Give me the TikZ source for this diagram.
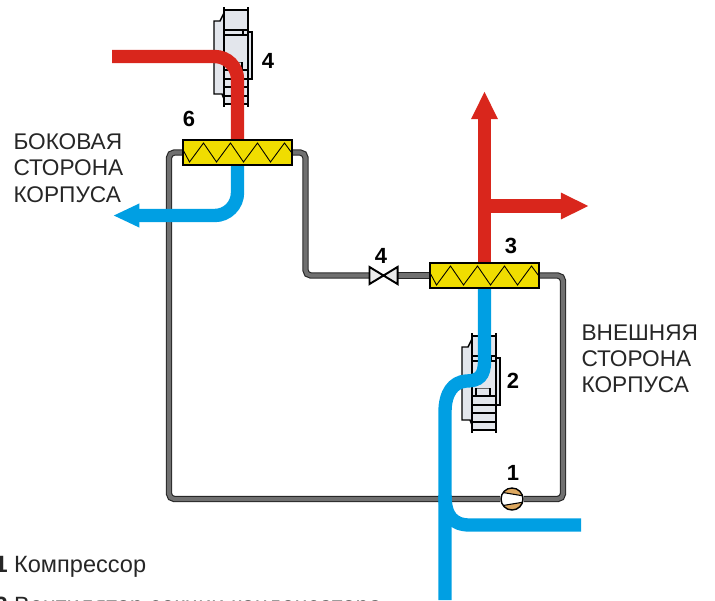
\documentclass[tikz,border=0pt]{standalone}
\usepackage{fontspec}
\setmainfont{Liberation Sans}
\usetikzlibrary{arrows.meta, calc}
\definecolor{cred}{HTML}{D9261C}
\definecolor{cblue}{HTML}{009FE3}
\definecolor{cyellow}{HTML}{F0DD00}
\definecolor{ctan}{HTML}{DDA860}
\definecolor{cpipe}{HTML}{707070}
\definecolor{cfan}{HTML}{E3E6EC}
\tikzset{
  every picture/.style={line width=0.6pt},
  pipe/.style={draw=black!85, double=cpipe, double distance=2.3pt, line width=0.65pt, rounded corners=3pt},
  hot/.style={draw=cred, line width=7.6pt},
  cold/.style={draw=cblue, line width=7.6pt},
  hotarrow/.style={hot, -{Triangle[length=16pt, width=14pt]}},
  coldarrow/.style={cold, -{Triangle[length=15pt, width=12.5pt]}},
  hx/.style={draw=black, line width=1.2pt, fill=cyellow, minimum width=2.18cm, minimum height=0.5cm, inner sep=0pt,
    path picture={
      \begin{scope}[shift={(path picture bounding box.center)}]
        \draw[line width=0.5pt] (-61,-15) \foreach \i in {0,...,3} {-- (-48+27*\i,9.5) -- (-34+27*\i,-9.5)} -- (61,9.5);
      \end{scope}}},
  number/.style={font=\fontsize{12.5}{14}\selectfont\bfseries, inner sep=0pt},
  side/.style={font=\fontsize{12.9}{15}\selectfont, align=left, anchor=north west, inner sep=0pt, text=black!85},
  legend/.style={font=\fontsize{13.4}{15}\selectfont, anchor=base west, inner sep=0pt, text=black!85},
  pics/fan/.style={code={
    \draw[fill=cfan, line width=0.8pt] (-12,-44) -- (-16,-36) -- (-22,-36) -- (-22,37) -- (-14,37) -- (-12,42);
    \fill[cfan] (-12,-47) rectangle (12,47);
    \draw[fill=cfan, line width=0.8pt] (12,-25) -- (16,-25) -- (16,22) -- (12,22);
    \draw[line width=1.1pt] (-12,-50) -- (-12,50) (12,-50) -- (12,50);
    \draw[line width=0.7pt] (-12,-47) -- (12,-47) (-12,-27) -- (12,-27) (-12,-22) -- (12,-22) (7,-27) -- (7,-22);
    \draw[line width=0.5pt, black!60] (-8,5) -- (6,5);
    \draw[line width=0.7pt] (-8,5) -- (-8,13) (6,5) -- (6,13);
    \draw[line width=1.2pt] (-12,13) -- (12,13);
    \foreach \y in {22,30,39,47} \draw[line width=0.8pt] (-12,\y) -- (12,\y);
  }},
}
\begin{document}
\begin{tikzpicture}[x=0.02cm, y=-0.02cm]
  \path[use as bounding box, clip] (0,0) rectangle (715,600);
  \pic at (236,57) {fan};
  \pic at (484,383) {fan};
  \node[hx] (hxa) at (237.5,152.5) {};
  \node[hx] (hxb) at (484.5,275.5) {};
  \node[circle, draw=black, line width=0.8pt, fill=ctan, minimum size=0.44cm, inner sep=0pt,
    path picture={
      \begin{scope}[shift={(path picture bounding box.center)}]
        \draw[fill=white, line width=0.6pt] (-12,-7) -- (12,-3) -- (12,3) -- (-12,7) -- cycle;
      \end{scope}}] (comp) at (512,499) {};
  % refrigerant loop
  \coordinate (ca) at (169,152.5);
  \coordinate (cb) at (169,499);
  \coordinate (cc) at (563,499);
  \coordinate (cd) at (563,275.5);
  \coordinate (ce) at (305.5,152.5);
  \coordinate (cf) at (305.5,275.5);
  \node[minimum width=0.54cm, minimum height=0.32cm, inner sep=0pt] (valve) at (383.5,275.5) {};
  \draw[pipe] (hxa.west) -- (ca) -- (cb) -- (comp.west);
  \draw[pipe] (comp.east) -- (cc) -- (cd) -- (hxb.east);
  \draw[pipe] (hxa.east) -- (ce) -- (cf) -- (valve.west);
  \draw[pipe] (valve.east) -- (hxb.west);
  \draw[fill=white!92!black, line width=1.1pt] (valve.north west) -- (valve.south east) -- (valve.north east) -- (valve.south west) -- cycle;
  % air flows
  \coordinate (rs) at (112,56.5);
  \coordinate (bl) at (113,215.5);
  \draw[hot, rounded corners=13pt] (rs) -| (hxa.north);
  \draw[coldarrow, rounded corners=13pt] (hxa.south) |- (bl);
  \coordinate (rt) at (484.5,91);
  \coordinate (rj) at (484.5,206);
  \coordinate (rr) at (589,206);
  \draw[hotarrow] (hxb.north) -- (rt);
  \draw[hotarrow] (rj) -- (rr);
  \coordinate (bb) at (445,600);
  \coordinate (bj) at (445,495);
  \coordinate (be) at (581,525);
  \draw[cold] (hxb.south) -- ++(0,72) .. controls (484.5,376) and (479,381) .. (466,381) .. controls (453,382) and (445,393) .. (445,412) -- (bb);
  \draw[cold] (bj) .. controls (445,515) and (452,525) .. (470,525) -- (be);
  % labels
  \node[number] (na) at (268,61) {4};
  \node[number] (nb) at (189,119) {6};
  \node[number] (nc) at (511,246) {3};
  \node[number] (nd) at (381,256) {4};
  \node[number] (ne) at (513,381) {2};
  \node[number] (nf) at (513,473) {1};
  \node[side] (sa) at (13,133) {БОКОВАЯ\\СТОРОНА\\КОРПУСА};
  \node[side] (sb) at (581,324) {ВНЕШНЯЯ\\СТОРОНА\\КОРПУСА};
  \node[legend] (la) at (-6,572) {\textbf{1} Компрессор};
  \node[legend] (lb) at (-6,613) {\textbf{2} Вентилятор секции конденсатора};
\end{tikzpicture}
\end{document}
